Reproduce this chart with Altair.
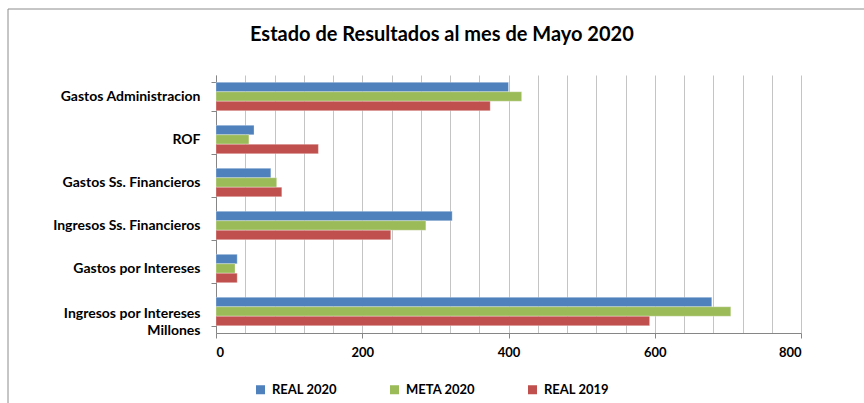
import altair as alt
import pandas as pd

categories = [
    "Gastos Administracion",
    "ROF",
    "Gastos Ss. Financieros",
    "Ingresos Ss. Financieros",
    "Gastos por Intereses",
    "Ingresos por Intereses\nMillones",
]
series = ["REAL 2020", "META 2020", "REAL 2019"]
real_2020 = [400, 52, 75, 323, 29, 678]
meta_2020 = [418, 45, 83, 287, 26, 704]
real_2019 = [375, 140, 90, 239, 29, 593]
colors = ["#4F81BD", "#9BBB59", "#C0504D"]
x_ticks = list(range(0, 801, 40))

rows = []
for name, vals in zip(series, [real_2020, meta_2020, real_2019]):
    for c, v in zip(categories, vals):
        rows.append({"Categoria": c, "Serie": name, "Valor": v})
df = pd.DataFrame(rows)

FONT = "Lato"
PAD = "\u2003\u2009"
HAS_NL = "(isString(datum.value) && indexof(datum.value, '\\n') >= 0)"

bars = alt.Chart(df).mark_bar(stroke="white", strokeWidth=0.5, strokeOpacity=0.6).encode(
    x=alt.X(
        "Valor:Q",
        scale=alt.Scale(domain=[0, 800], nice=False),
        axis=alt.Axis(
            title=None,
            values=x_ticks,
            labelExpr="datum.value % 200 === 0 ? datum.label : ''",
            tickColor={"condition": {"test": "datum.value % 200 === 0", "value": "#868686"}, "value": "transparent"},
            tickSize=5,
            labelPadding=8,
            grid=True,
            gridColor="#C4C4C4",
            domainColor="#868686",
            labelFont=FONT,
            labelFontWeight="bold",
            labelFontSize=13,
            labelColor="black",
        ),
    ),
    y=alt.Y(
        "Categoria:N",
        sort=categories,
        scale=alt.Scale(paddingInner=0.34, paddingOuter=0.17),
        axis=alt.Axis(
            title=None,
            tickBand="extent",
            tickSize=5,
            tickColor="#868686",
            domainColor="#868686",
            labelPadding=11,
            labelExpr=HAS_NL + " ? [split(datum.value, '\\n')[0], split(datum.value, '\\n')[1] + '" + PAD + "'] : datum.label",
            labelOffset={"condition": {"test": HAS_NL, "value": 2}, "value": 0},
            labelFont=FONT,
            labelFontWeight="bold",
            labelFontSize=14,
            labelColor="black",
            labelLineHeight=17,
            labelLimit=250,
        ),
    ),
    yOffset=alt.YOffset("Serie:N", sort=series),
    color=alt.Color(
        "Serie:N",
        sort=series,
        scale=alt.Scale(domain=series, range=colors),
        legend=alt.Legend(
            title=None,
            orient="none",
            direction="horizontal",
            legendX=38,
            legendY=308,
            symbolType="square",
            symbolSize=81,
            symbolStrokeWidth=0,
            symbolOpacity=1,
            labelFont=FONT,
            labelFontWeight="bold",
            labelFontSize=13,
            labelColor="black",
            columnPadding=51,
            labelOffset=5,
        ),
    ),
)

frame_df = pd.DataFrame({"k": [0]})
frame_left = alt.Chart(frame_df).mark_rule(color="#8C8C8C", strokeWidth=1).encode(
    x=alt.value(-208), y=alt.value(-66), y2=alt.value(330)
)
frame_top = alt.Chart(frame_df).mark_rule(color="#8C8C8C", strokeWidth=1).encode(
    x=alt.value(-208), x2=alt.value(650), y=alt.value(-66)
)

chart = alt.layer(bars, frame_left, frame_top).properties(
    width=585,
    height=258,
    autosize=alt.AutoSizeParams(type="none"),
    padding={"left": 216, "top": 75, "right": 63, "bottom": 70},
    title=alt.TitleParams(
        "Estado de Resultados  al mes de Mayo 2020",
        anchor="start",
        frame="group",
        dx=34,
        offset=-36,
        font=FONT,
        fontSize=20,
        fontWeight="bold",
        color="black",
    ),
).configure_view(strokeWidth=0)

chart.save("out.html", embed_options={"renderer": "svg", "actions": False})
